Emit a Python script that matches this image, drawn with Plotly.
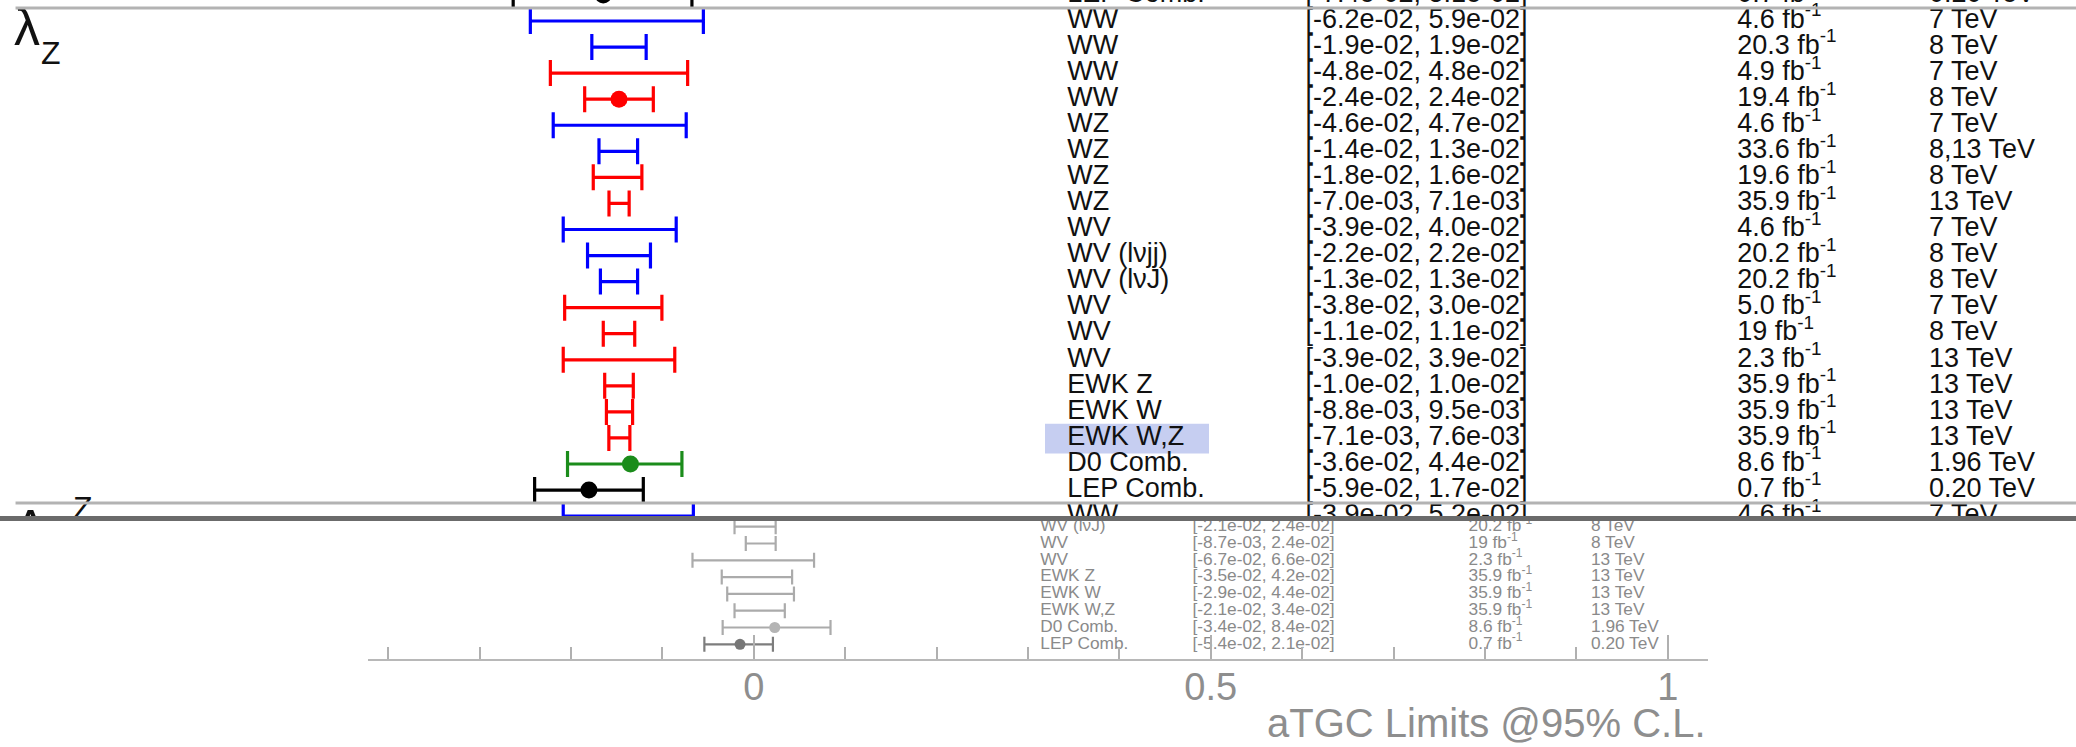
import plotly.graph_objects as go

W, H = 2076, 747
FONT = "Liberation Sans, Arial, sans-serif"

# ROOT frame of the summary plot (data units)
FRAME_LO, FRAME_HI = -0.422, 1.044

# text columns of the summary table (data units)
COL_LABEL, COL_INTERVAL, COL_LUMI, COL_ENERGY = 0.3135, 0.480, 0.782, 0.916

EXP_COLOR = {"ATLAS": "#0000ff", "CMS": "#ff0000", "D0": "#1b8c1b", "LEP": "#000000"}

# ---------------- lambda_Z block (magnified view) ----------------
lz_labels = ["WW", "WW", "WW", "WW", "WZ", "WZ", "WZ", "WZ", "WV", "WV (lνjj)", "WV (lνJ)",
             "WV", "WV", "WV", "EWK Z", "EWK W", "EWK W,Z", "D0 Comb.", "LEP Comb."]
lz_lo = [-0.062, -0.019, -0.048, -0.024, -0.046, -0.014, -0.018, -0.0070, -0.039, -0.022, -0.013,
         -0.038, -0.011, -0.039, -0.010, -0.0088, -0.0071, -0.036, -0.059]
lz_hi = [0.059, 0.019, 0.048, 0.024, 0.047, 0.013, 0.016, 0.0071, 0.040, 0.022, 0.013,
         0.030, 0.011, 0.039, 0.010, 0.0095, 0.0076, 0.044, 0.017]
lz_best = [None, None, None, 0.0, None, None, None, None, None, None, None,
           None, None, None, None, None, None, 0.008, -0.021]
lz_lumi = ["4.6", "20.3", "4.9", "19.4", "4.6", "33.6", "19.6", "35.9", "4.6", "20.2", "20.2",
           "5.0", "19", "2.3", "35.9", "35.9", "35.9", "8.6", "0.7"]
lz_energy = ["7", "8", "7", "8", "7", "8,13", "8", "13", "7", "8", "8",
             "7", "8", "13", "13", "13", "13", "1.96", "0.20"]
lz_exp = ["ATLAS", "ATLAS", "CMS", "CMS", "ATLAS", "ATLAS", "CMS", "CMS", "ATLAS", "ATLAS", "ATLAS",
          "CMS", "CMS", "CMS", "CMS", "CMS", "CMS", "D0", "LEP"]

# last row of the block above (Delta kappa_Z) and first row of the block below (Delta g1^Z)
prev_row = dict(label="LEP Comb.", lo=-0.074, hi=0.051, best=-0.011, lumi="0.7", energy="0.20", exp="LEP")
next_row = dict(label="WW", lo=-0.039, hi=0.052, best=None, lumi="4.6", energy="7", exp="ATLAS")

# ---------------- Delta g1^Z block, tail (full-size view) ----------------
g1_labels = ["WV (lνJ)", "WV", "WV", "EWK Z", "EWK W", "EWK W,Z", "D0 Comb.", "LEP Comb."]
g1_lo = [-0.021, -0.0087, -0.067, -0.035, -0.029, -0.021, -0.034, -0.054]
g1_hi = [0.024, 0.024, 0.066, 0.042, 0.044, 0.034, 0.084, 0.021]
g1_best = [None, None, None, None, None, None, 0.023, -0.015]
g1_lumi = ["20.2", "19", "2.3", "35.9", "35.9", "35.9", "8.6", "0.7"]
g1_energy = ["8", "8", "13", "13", "13", "13", "1.96", "0.20"]
g1_exp = ["ATLAS", "CMS", "CMS", "CMS", "CMS", "CMS", "D0", "LEP"]

# ---------------- geometry (pixels) ----------------
# magnified view
ZOOM_X0, ZOOM_SCALE = 619.0, 1430.0        # px of value 0, px per unit
ZOOM_ROW1, ZOOM_PITCH = 21.0, 26.06        # px of first lambda_Z row, row pitch
ZOOM_BOTTOM = 516.0
# full-size view
FULL_X0, FULL_SCALE = 754.0, 914.0
FULL_ROW0, FULL_PITCH = 526.7, 16.8
FULL_TOP, FULL_AXIS = 521.0, 659.0


def zx(px):
    return (px - ZOOM_X0) / ZOOM_SCALE


def zy(py):
    return 1 + (py - ZOOM_ROW1) / ZOOM_PITCH


def fy(py):
    return (py - FULL_ROW0) / FULL_PITCH


fig = go.Figure()


def interval_text(lo, hi):
    return f"[{lo:.1e}, {hi:.1e}]"


def add_rows(ys, labels, lo, hi, best, lumi, energy, colors, dot_colors, xa, ya,
             lw, cap, dot, fsize, tcolor):
    for y, l, h, b, c, dc in zip(ys, lo, hi, best, colors, dot_colors):
        xc = b if b is not None else 0.5 * (l + h)
        fig.add_trace(go.Scatter(
            x=[xc], y=[y], mode="markers", xaxis=xa, yaxis=ya, cliponaxis=True,
            marker=dict(size=dot, color=dc if b is not None else "rgba(0,0,0,0)", line=dict(width=0)),
            error_x=dict(type="data", symmetric=False, array=[h - xc], arrayminus=[xc - l],
                         color=c, thickness=lw, width=cap),
            hoverinfo="skip"))
    columns = [
        (COL_LABEL, list(labels)),
        (COL_INTERVAL, [interval_text(l, h) for l, h in zip(lo, hi)]),
        (COL_LUMI, [f"{v} fb<sup>-1</sup>" for v in lumi]),
        (COL_ENERGY, [f"{v} TeV" for v in energy]),
    ]
    for cx, texts in columns:
        fig.add_trace(go.Scatter(
            x=[cx] * len(texts), y=list(ys), mode="text", text=texts,
            textposition="middle right", xaxis=xa, yaxis=ya, cliponaxis=True,
            textfont=dict(family=FONT, size=fsize, color=tcolor), hoverinfo="skip"))


# ---- magnified view: previous row, lambda_Z rows, next row ----
z_rows = [0] + list(range(1, len(lz_labels) + 1)) + [len(lz_labels) + 1]
z_labels = [prev_row["label"]] + lz_labels + [next_row["label"]]
z_lo = [prev_row["lo"]] + lz_lo + [next_row["lo"]]
z_hi = [prev_row["hi"]] + lz_hi + [next_row["hi"]]
z_best = [prev_row["best"]] + lz_best + [next_row["best"]]
z_lumi = [prev_row["lumi"]] + lz_lumi + [next_row["lumi"]]
z_energy = [prev_row["energy"]] + lz_energy + [next_row["energy"]]
z_exp = [prev_row["exp"]] + lz_exp + [next_row["exp"]]
z_col = [EXP_COLOR[e] for e in z_exp]

add_rows(z_rows, z_labels, z_lo, z_hi, z_best, z_lumi, z_energy, z_col, z_col,
         "x2", "y2", lw=3.2, cap=13, dot=17, fsize=27, tcolor="#111111")

# block labels: lambda_Z and (top of) Delta g1^Z
fig.add_trace(go.Scatter(
    x=[zx(14), zx(41), zx(13), zx(73), zx(75)],
    y=[zy(32), zy(56), zy(533), zy(511), zy(556)],
    text=["λ", "Z", "Δg", "Z", "1"], mode="text", textposition="middle right",
    xaxis="x2", yaxis="y2", cliponaxis=True,
    textfont=dict(family=FONT, size=[52, 32, 52, 32, 32], color="#111111"), hoverinfo="skip"))

# ---- full-size view: tail of the Delta g1^Z block ----
g1_rows = list(range(len(g1_labels)))
g1_col = ["#7d7d7d" if e == "LEP" else "#ababab" for e in g1_exp]
g1_dot = ["#777777" if e == "LEP" else "#b4b4b4" for e in g1_exp]
add_rows(g1_rows, g1_labels, g1_lo, g1_hi, g1_best, g1_lumi, g1_energy, g1_col, g1_dot,
         "x", "y", lw=2.2, cap=7.5, dot=11, fsize=17.3, tcolor="#8a8a8a")

shapes = []
# block separators in the magnified view
for yb in (0.5, len(lz_labels) + 0.5):
    shapes.append(dict(type="line", xref="x2", yref="y2", x0=FRAME_LO, x1=FRAME_HI, y0=yb, y1=yb,
                       line=dict(color="#b3b3b3", width=3), layer="above"))
# text selection highlight behind "EWK W,Z"
hl = lz_labels.index("EWK W,Z") + 1
shapes.append(dict(type="rect", xref="x2", yref="y2", x0=zx(1045), x1=zx(1209),
                   y0=hl - 0.55, y1=hl + 0.6, fillcolor="#c6cef1", line=dict(width=0), layer="below"))
# frame edge of the magnified view
shapes.append(dict(type="rect", xref="paper", yref="paper", x0=0, x1=1,
                   y0=1 - 521 / H, y1=1 - ZOOM_BOTTOM / H, fillcolor="#6b6b6b",
                   line=dict(width=0), layer="above"))

fig.update_layout(
    width=W, height=H, margin=dict(l=0, r=0, t=0, b=0),
    paper_bgcolor="white", plot_bgcolor="rgba(0,0,0,0)", showlegend=False,
    shapes=shapes,
    xaxis=dict(domain=[368 / W, 1708 / W], range=[FRAME_LO, FRAME_HI], anchor="y",
               showline=True, linecolor="#b8b8b8", linewidth=2, showgrid=False, zeroline=False,
               ticks="inside", ticklen=24, tickwidth=2, tickcolor="#b0b0b0",
               tick0=0, dtick=0.5, ticklabelstandoff=-7,
               tickfont=dict(family=FONT, size=38, color="#8e8e8e"),
               minor=dict(dtick=0.1, tick0=0, ticks="inside", ticklen=12, tickwidth=2,
                          tickcolor="#b0b0b0", showgrid=False)),
    yaxis=dict(domain=[1 - FULL_AXIS / H, 1 - FULL_TOP / H],
               range=[fy(FULL_AXIS), fy(FULL_TOP)], visible=False),
    xaxis2=dict(domain=[0, 1], range=[zx(0), zx(W)], anchor="y2", visible=False),
    yaxis2=dict(domain=[1 - ZOOM_BOTTOM / H, 1], range=[zy(ZOOM_BOTTOM), zy(0)],
                anchor="x2", visible=False),
    annotations=[dict(text="aTGC Limits @95% C.L.", xref="paper", yref="paper",
                      x=1708 / W, y=1 - 723 / H, xanchor="right", yanchor="middle",
                      showarrow=False, font=dict(family=FONT, size=40, color="#8e8e8e"))],
)

fig.write_html("out.html")
